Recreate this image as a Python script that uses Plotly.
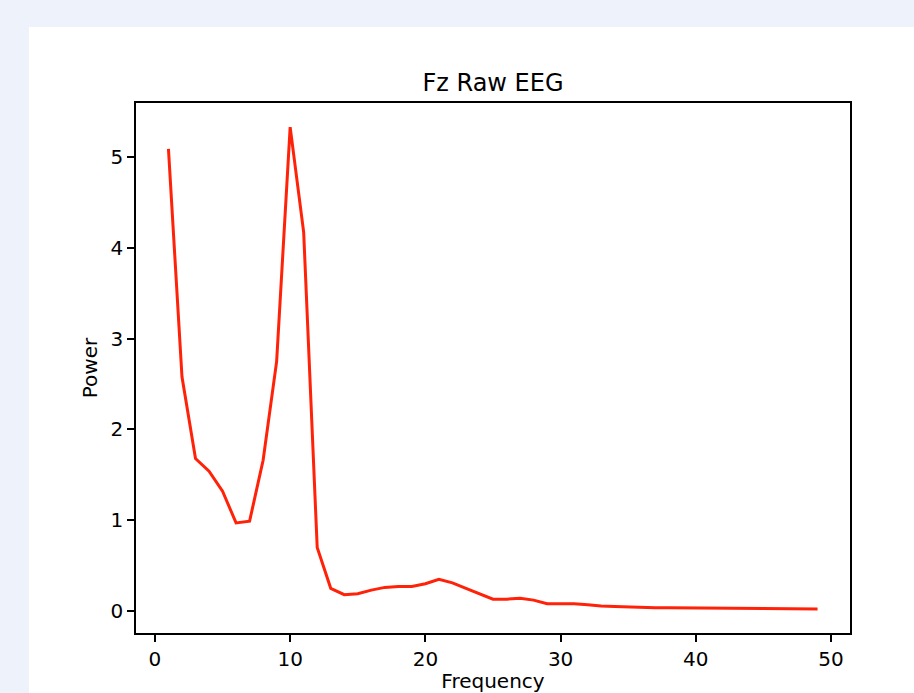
import plotly.graph_objects as go

freq = list(range(1, 50))
power = [5.09, 2.58, 1.68, 1.54, 1.32, 0.97, 0.99, 1.66, 2.75, 5.33,
         4.17, 0.70, 0.25, 0.18, 0.19, 0.23, 0.26, 0.27, 0.27, 0.30,
         0.35, 0.31, 0.25, 0.19, 0.13, 0.13, 0.14, 0.12, 0.08, 0.08,
         0.08, 0.07, 0.055, 0.05, 0.045, 0.035, 0.037, 0.037, 0.036, 0.033,
         0.030, 0.029, 0.028, 0.027, 0.025, 0.026, 0.026, 0.024, 0.023]
x_ticks = [0, 10, 20, 30, 40, 50]
y_ticks = [0, 1, 2, 3, 4, 5]

W, H = 914, 693
L, R, T, B = 136, 850, 103, 633
pw, ph = R - L, B - T

fig = go.Figure()
fig.add_trace(go.Scatter(x=freq, y=power, mode="lines",
                         line=dict(color="#ff2208", width=3), showlegend=False))

# white page area over light-blue background
fig.add_shape(type="rect", xref="paper", yref="paper",
              x0=(29 - L) / pw, x1=(W + 10 - L) / pw,
              y0=(B - (H + 10)) / ph, y1=(B - 27) / ph,
              fillcolor="white", line=dict(width=0), layer="below")

font = "DejaVu Sans, sans-serif"
ymin, ymax = min(power), max(power)
ypad = (ymax - ymin) * 0.05
xpad = (max(freq) - min(freq)) * 0.05

fig.update_layout(
    width=W, height=H,
    margin=dict(l=L, r=W - R, t=T, b=H - B),
    paper_bgcolor="#eef2fa", plot_bgcolor="white",
    font=dict(family=font, size=20, color="black"),
    title=dict(text="Fz Raw EEG", x=(L + R) / 2 / W, xanchor="center",
               y=(H - 83) / H, yanchor="middle", yref="container",
               automargin=False,
               font=dict(size=24, family=font, color="black")),
    xaxis=dict(range=[min(freq) - xpad, max(freq) + xpad], tickvals=x_ticks,
               showgrid=False, zeroline=False, showline=True, mirror=True,
               linecolor="black", linewidth=1.6, ticks="outside", ticklen=7,
               tickwidth=1.6, tickcolor="black", automargin=False,
               title=dict(text="Frequency", standoff=10, font=dict(size=20))),
    yaxis=dict(range=[ymin - ypad, ymax + ypad], tickvals=y_ticks,
               showgrid=False, zeroline=False, showline=True, mirror=True,
               linecolor="black", linewidth=1.6, ticks="outside", ticklen=7,
               tickwidth=1.6, tickcolor="black", automargin=False,
               title=dict(text="Power", standoff=7, font=dict(size=20))),
)

fig.write_html("out.html")
